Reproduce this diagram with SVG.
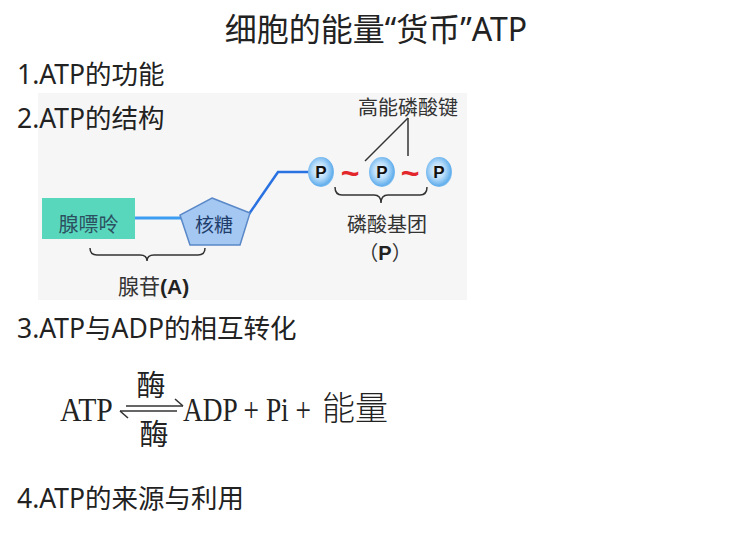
<svg xmlns="http://www.w3.org/2000/svg" width="746" height="557" viewBox="0 0 746 557">
<defs>
<style>
.h{font-family:"Noto Sans","Noto Sans CJK SC",sans-serif;font-size:26.5px;fill:#222}
.t{font-family:"Noto Sans CJK SC",sans-serif;font-size:20px;fill:#333}
.pl{font-family:"Liberation Sans",Arial,sans-serif;font-weight:bold;font-size:17px;fill:#111;text-anchor:middle}
.tl{font-family:"Liberation Sans",Arial,sans-serif;font-weight:bold;font-size:32px;fill:#e3262b;text-anchor:middle}
.eq{font-family:"Liberation Serif",serif;font-size:33px;fill:#222}
.cj{font-family:"Noto Sans CJK SC",serif;font-size:29px;fill:#222;text-anchor:middle}
.br{fill:none;stroke:#333;stroke-width:1.5}
.ar{stroke:#333;stroke-width:1.6}
</style>
<radialGradient id="pg" cx="0.45" cy="0.45" r="0.6">
<stop offset="0" stop-color="#f2f9ff"/>
<stop offset="0.45" stop-color="#b9ddfa"/>
<stop offset="0.85" stop-color="#62aeec"/>
<stop offset="1" stop-color="#a6d3f6"/>
</radialGradient>
</defs>
<rect width="746" height="557" fill="#fff"/>
<text x="376" y="41" text-anchor="middle" style="font-family:'Noto Sans','Noto Sans CJK SC',sans-serif;font-size:32px;fill:#222">细胞的能量“货币”ATP</text>
<rect id="structure-bg" x="38" y="93" width="429" height="207" fill="#f6f6f6"/>
<text class="h" x="17" y="84">1.ATP的功能</text>
<text class="h" x="17" y="128">2.ATP的结构</text>
<text class="h" x="17" y="338">3.ATP与ADP的相互转化</text>
<text class="h" x="17" y="508">4.ATP的来源与利用</text>

<g id="connectors">
<line x1="135" y1="218" x2="182" y2="218" stroke="#3d9df2" stroke-width="3"/>
<polyline points="249,214 278,172 309,172" fill="none" stroke="#2a72e2" stroke-width="2.5"/>
<line x1="408" y1="118" x2="365" y2="161" stroke="#333" stroke-width="1.5"/>
<line x1="408" y1="118" x2="408" y2="156" stroke="#333" stroke-width="1.5"/>
<path class="br" d="M90,248 Q90,255 97,255 L140,255 Q147,255 147,261 Q147,255 154,255 L198,255 Q205,255 205,248"/>
<path class="br" d="M335,187 Q335,195 342,195 L374,195 Q381,195 381,203 Q381,195 388,195 L420,195 Q427,195 427,187"/>
</g>

<g id="adenine">
<rect x="42" y="198" width="93" height="41" fill="#58d7bd"/>
<text x="88.5" y="232" text-anchor="middle" style="font-family:'Noto Sans CJK SC',sans-serif;font-size:20px;fill:#2d5060">腺嘌呤</text>
</g>
<g id="ribose">
<polygon points="212,198 250,213 240,245 190,245 180,215" fill="#a4c8f2" stroke="#5a88c8" stroke-width="1.5"/>
<text x="214" y="232" text-anchor="middle" style="font-family:'Noto Sans CJK SC',sans-serif;font-size:19px;fill:#1f3d6b">核糖</text>
</g>
<g id="p1"><ellipse cx="321" cy="172" rx="13" ry="15" fill="url(#pg)"/><text class="pl" x="321" y="178">P</text></g>
<g id="p2"><ellipse cx="382" cy="172" rx="13" ry="15" fill="url(#pg)"/><text class="pl" x="382" y="178">P</text></g>
<g id="p3"><ellipse cx="439" cy="172" rx="13" ry="15" fill="url(#pg)"/><text class="pl" x="439" y="178">P</text></g>
<g id="bonds">
<text class="tl" x="350" y="184">~</text>
<text class="tl" x="410" y="184">~</text>
</g>
<g id="label-bond"><text class="t" x="408" y="115" text-anchor="middle">高能磷酸键</text></g>
<g id="label-phosphate">
<text class="t" x="387" y="232" text-anchor="middle">磷酸基团</text>
<text class="t" x="385" y="260" text-anchor="middle">（<tspan style="font-family:'Liberation Sans',Arial,sans-serif;font-weight:bold;fill:#222">P</tspan>）</text>
</g>
<g id="label-adenosine">
<text x="118" y="294" style="font-family:'Noto Sans CJK SC',sans-serif;font-size:21px;fill:#333">腺苷<tspan style="font-family:'Liberation Sans',Arial,sans-serif;font-weight:bold;fill:#222">(A)</tspan></text>
</g>

<g id="equation">
<text class="eq" transform="translate(60,421) scale(0.9,1)">ATP</text>
<line class="ar" x1="126" y1="406" x2="183" y2="406"/>
<line class="ar" x1="183" y1="406" x2="175" y2="399"/>
<line class="ar" x1="120" y1="411" x2="177" y2="411"/>
<line class="ar" x1="120" y1="411" x2="128" y2="418"/>
<text class="cj" x="151" y="396">酶</text>
<text class="cj" x="154" y="445">酶</text>
<text class="eq" transform="translate(183,421) scale(0.83,1)">ADP + Pi +</text>
<text x="355" y="420" text-anchor="middle" style="font-family:'Noto Sans CJK SC',serif;font-size:33px;font-weight:300;fill:#222">能量</text>
</g>
</svg>
